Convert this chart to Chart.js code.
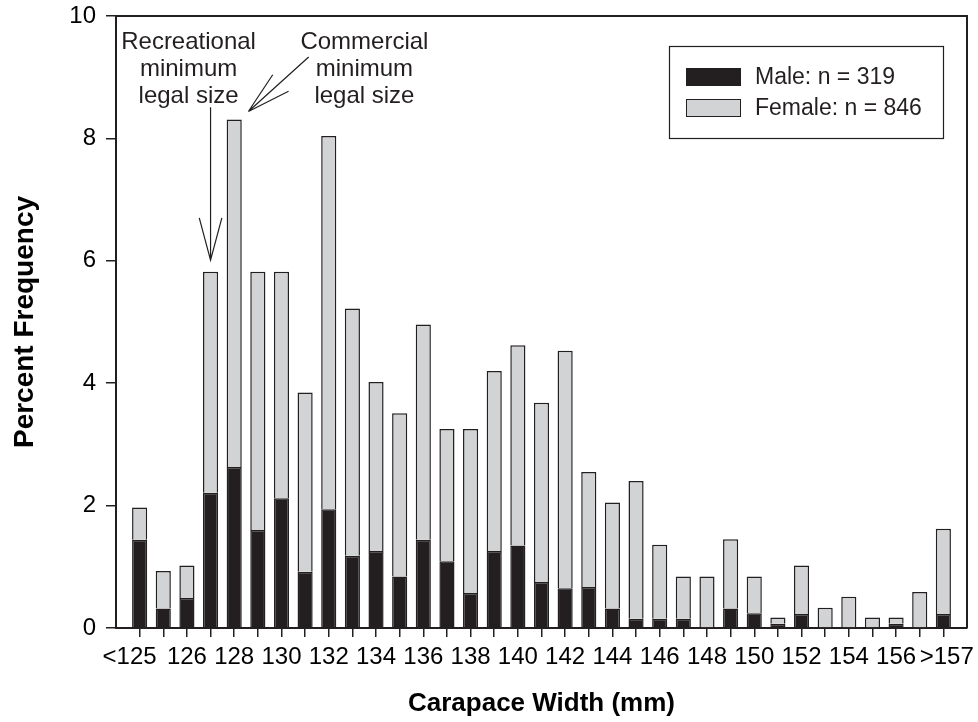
<!DOCTYPE html>
<html>
<head>
<meta charset="utf-8">
<script src="https://cdn.jsdelivr.net/npm/chart.js@4.4.1/dist/chart.umd.min.js"></script>
<style>
  html, body { margin: 0; padding: 0; background: #fff; }
  #wrap { width: 978px; height: 722px; position: relative; }
</style>
</head>
<body>
<div id="wrap"><canvas id="widthChart"></canvas></div>
<script>
// carapace width classes (mm)
const categories = ['<125', '125', '126', '127', '128', '129', '130', '131', '132', '133', '134',
  '135', '136', '137', '138', '139', '140', '141', '142', '143', '144', '145', '146', '147',
  '148', '149', '150', '151', '152', '153', '154', '155', '156', '157', '>157'];

// percent frequency, males (bottom of stack)
const maleValues = [1.44, 0.32, 0.49, 2.21, 2.63, 1.60, 2.12, 0.92, 1.94, 1.18, 1.26,
  0.84, 1.44, 1.09, 0.57, 1.26, 1.35, 0.75, 0.65, 0.67, 0.32, 0.15, 0.15, 0.15,
  0, 0.32, 0.24, 0.07, 0.23, 0, 0, 0, 0.07, 0, 0.23];

// percent frequency, females (stacked on top)
const femaleValues = [0.53, 0.61, 0.53, 3.61, 5.68, 4.22, 3.70, 2.93, 6.10, 4.04, 2.76,
  2.67, 3.52, 2.16, 2.68, 2.94, 3.27, 2.93, 3.88, 1.88, 1.73, 2.25, 1.21, 0.69,
  0.84, 1.13, 0.60, 0.10, 0.79, 0.33, 0.51, 0.17, 0.10, 0.59, 1.39];

const yTicks = [0, 2, 4, 6, 8, 10];
const seriesNames = ['Male: n = 319', 'Female: n = 846'];

const ink = '#231f20';
const maleColor = '#231f20';
const femaleColor = '#d1d3d4';
const fontFamily = '"Liberation Sans", Arial, Helvetica, sans-serif';

// the open-ended classes hang a little outward, as in the printed axis
function xLabel(i) {
  if (i % 2 !== 0) return '';
  const c = categories[i];
  if (c.charAt(0) === '<') return c + '   ';
  if (c.charAt(0) === '>') return ' ' + c;
  return c;
}

// legend box drawn inside the plot, top right
const legendBox = {
  id: 'legendBox',
  afterDraw(chart) {
    const { ctx, chartArea } = chart;
    const w = 274, h = 92;
    const left = chartArea.right - 24 - w;
    const top = chartArea.top + 30;
    ctx.save();
    ctx.strokeStyle = ink;
    ctx.lineWidth = 1.2;
    ctx.strokeRect(left + 0.5, top + 0.5, w, h);
    ctx.font = '23px ' + fontFamily;
    ctx.textBaseline = 'middle';
    chart.data.datasets.forEach(function(ds, i) {
      const sy = top + 22 + i * 31;
      ctx.fillStyle = ds.backgroundColor;
      ctx.fillRect(left + 17, sy, 55, 18);
      ctx.strokeStyle = ink;
      ctx.lineWidth = 1;
      ctx.strokeRect(left + 17.5, sy + 0.5, 54, 17);
      ctx.fillStyle = ink;
      ctx.fillText(ds.label, left + 86, sy + 10);
    });
    ctx.restore();
  }
};

// full frame + the two minimum legal size notes
const frameAndNotes = {
  id: 'frameAndNotes',
  afterDraw(chart) {
    const { ctx, chartArea } = chart;
    const xs = chart.scales.x, ys = chart.scales.y;
    const px = v => xs.getPixelForValue(v);
    const py = v => ys.getPixelForValue(v);
    ctx.save();
    ctx.strokeStyle = ink;
    ctx.lineWidth = 2;
    ctx.beginPath();
    ctx.moveTo(chartArea.left, chartArea.top);
    ctx.lineTo(chartArea.right, chartArea.top);
    ctx.lineTo(chartArea.right, chartArea.bottom);
    ctx.stroke();

    ctx.fillStyle = ink;
    ctx.font = '24px ' + fontFamily;
    ctx.textAlign = 'center';
    ctx.textBaseline = 'alphabetic';
    const drawNote = function(lines, xv) {
      const base = py(9.456);
      lines.forEach(function(t, i) { ctx.fillText(t, px(xv), base + i * 27); });
    };
    drawNote(['Recreational', 'minimum', 'legal size'], 2.07);
    drawNote(['Commercial', 'minimum', 'legal size'], 9.51);

    ctx.lineWidth = 1.2;
    // recreational arrow, points at the 127 mm bar
    const ax = px(3);
    ctx.beginPath();
    ctx.moveTo(ax, py(8.51));
    ctx.lineTo(ax, py(6.01));
    ctx.moveTo(ax - 11.3, py(6.70));
    ctx.lineTo(ax, py(6.01));
    ctx.lineTo(ax + 11.3, py(6.70));
    ctx.stroke();
    // commercial arrow, points at the 128 mm bar
    const tx = px(4.60), ty = py(8.44);
    ctx.beginPath();
    ctx.moveTo(px(7.15), py(9.33));
    ctx.lineTo(tx, ty);
    ctx.moveTo(px(5.63), py(9.04));
    ctx.lineTo(tx, ty);
    ctx.moveTo(px(6.30), py(8.77));
    ctx.lineTo(tx, ty);
    ctx.stroke();
    ctx.restore();
  }
};

const ctx = document.getElementById('widthChart').getContext('2d');
const chart = new Chart(ctx, {
  type: 'bar',
  data: {
    datasets: [
      {
        label: seriesNames[0],
        data: maleValues.map((v, i) => ({ x: i, y: v })),
        backgroundColor: maleColor,
        borderColor: ink,
        borderWidth: 1.5,
        barPercentage: 0.64,
        categoryPercentage: 1
      },
      {
        label: seriesNames[1],
        data: femaleValues.map((v, i) => ({ x: i, y: v })),
        backgroundColor: femaleColor,
        borderColor: ink,
        borderWidth: 1.5,
        barPercentage: 0.64,
        categoryPercentage: 1
      }
    ]
  },
  options: {
    responsive: true,
    maintainAspectRatio: false,
    animation: false,
    layout: { padding: { top: 16, right: 11, left: 0, bottom: 0 } },
    plugins: {
      legend: { display: false },
      tooltip: { enabled: false }
    },
    scales: {
      x: {
        type: 'linear',
        stacked: true,
        offset: false,
        min: -1,
        max: categories.length,
        afterFit: s => {
          s.height = 94;
          s.paddingLeft = 0;
          s.paddingRight = 0;
        },
        afterBuildTicks: s => {
          s.ticks = categories.map((c, i) => ({ value: i }));
        },
        ticks: {
          autoSkip: false,
          maxRotation: 0,
          minRotation: 0,
          padding: 6,
          color: '#000',
          font: { family: fontFamily, size: 24 },
          callback: v => xLabel(v)
        },
        grid: { offset: false, drawOnChartArea: false, tickLength: 9, color: ink, lineWidth: 1.5 },
        border: { color: ink, width: 2 },
        title: {
          display: true,
          text: 'Carapace Width (mm)',
          color: '#000',
          font: { family: fontFamily, size: 26, weight: 'bold' },
          padding: { top: 0, bottom: 3 }
        }
      },
      y: {
        stacked: true,
        min: 0,
        max: 10,
        afterFit: s => {
          s.width = 116;
          s.paddingTop = 0;
          s.paddingBottom = 0;
        },
        afterBuildTicks: s => {
          s.ticks = yTicks.map(v => ({ value: v }));
        },
        ticks: {
          padding: 10,
          color: '#000',
          font: { family: fontFamily, size: 24 }
        },
        grid: { drawOnChartArea: false, tickLength: 10, color: ink, lineWidth: 1.5 },
        border: { color: ink, width: 2 },
        title: {
          display: true,
          text: 'Percent Frequency',
          color: '#000',
          font: { family: fontFamily, size: 28, weight: 'bold' },
          padding: { top: 8, bottom: 0 }
        }
      }
    }
  },
  plugins: [legendBox, frameAndNotes]
});
</script>
</body>
</html>
